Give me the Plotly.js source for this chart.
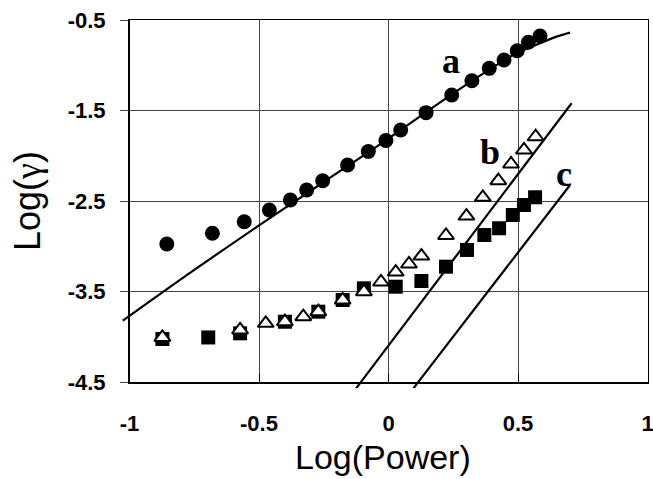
<!DOCTYPE html>
<html>
<head>
<meta charset="utf-8">
<script src="https://cdn.plot.ly/plotly-3.0.1.min.js"></script>
<style>html,body{margin:0;padding:0;background:#fff;}#chart{width:653px;height:479px;}</style>
</head>
<body>
<div id="chart"></div>
<script>
// ---- data ----
const seriesALogPower = [-0.856, -0.680, -0.557, -0.460, -0.379, -0.316, -0.254, -0.158, -0.078, -0.010, 0.047, 0.145, 0.244, 0.322, 0.389, 0.446, 0.497, 0.540, 0.585];
const seriesALogGamma = [-2.975, -2.857, -2.729, -2.599, -2.489, -2.378, -2.276, -2.102, -1.953, -1.831, -1.715, -1.524, -1.329, -1.171, -1.034, -0.942, -0.839, -0.746, -0.677];

const seriesBLogPower = [-0.873, -0.573, -0.474, -0.400, -0.329, -0.271, -0.177, -0.095, -0.029, 0.028, 0.079, 0.127, 0.222, 0.301, 0.364, 0.424, 0.473, 0.523, 0.568];
const seriesBLogGamma = [-4.008, -3.925, -3.851, -3.834, -3.778, -3.723, -3.594, -3.502, -3.395, -3.285, -3.196, -3.108, -2.881, -2.666, -2.459, -2.276, -2.091, -1.936, -1.790];

const seriesCLogPower = [-0.873, -0.696, -0.573, -0.400, -0.271, -0.177, -0.095, 0.028, 0.127, 0.222, 0.303, 0.370, 0.427, 0.480, 0.523, 0.566];
const seriesCLogGamma = [-4.025, -4.008, -3.962, -3.834, -3.723, -3.594, -3.465, -3.447, -3.384, -3.226, -3.041, -2.876, -2.801, -2.655, -2.544, -2.459];

const fitALogPower = [-1.026, -0.75, -0.5, -0.25, 0, 0.25, 0.45, 0.5, 0.585, 0.649, 0.701];
const fitALogGamma = [-3.823, -3.262, -2.77, -2.29, -1.81, -1.31, -0.94, -0.86, -0.758, -0.684, -0.640];
const fitBLogPower = [-0.125, 0.707];
const fitBLogGamma = [-4.570, -1.420];
const fitCLogPower = [0.096, 0.701];
const fitCLogGamma = [-4.570, -2.323];

const curveLabels = ['a', 'b', 'c'];
const xTickValues = [-1, -0.5, 0, 0.5, 1];
const xTickLabels = ['-1', '-0.5', '0', '0.5', '1'];
const yTickValues = [-4.5, -3.5, -2.5, -1.5, -0.5];
const yTickLabels = ['-4.5', '-3.5', '-2.5', '-1.5', '-0.5'];

// ---- geometry ----
const W = 653, H = 479;
const mL = 119, mR = 0, mT = 14, mB = 91;
const plotL = 129.5, plotR = 647.5, plotT = 20, plotB = 382;
const xRange = [-1, 1], yRange = [-4.5, -0.5];
const pw = W - mL - mR, ph = H - mT - mB;
const xDom = [(plotL - mL) / pw, (plotR - mL) / pw];
const yDom = [(H - mB - plotB) / ph, (H - mB - plotT) / ph];
const xPer = (xRange[1] - xRange[0]) / (xDom[1] - xDom[0]);
const yPer = (yRange[1] - yRange[0]) / (yDom[1] - yDom[0]);
// a wider, invisible subplot with the same scale, so fit lines may run a little past the frame
const x2Range = [xRange[0] - xDom[0] * xPer, xRange[1] + (1 - xDom[1]) * xPer];
const y2Range = [yRange[0] - yDom[0] * yPer, yRange[1] + (1 - yDom[1]) * yPer];

const lineStyle = {color: '#000', width: 2.2};
const onWide = {xaxis: 'x2', yaxis: 'y2'};
const traces = [
  {x: [], y: [], xaxis: 'x', yaxis: 'y', mode: 'markers', hoverinfo: 'skip', showlegend: false},
  Object.assign({x: fitALogPower, y: fitALogGamma, mode: 'lines', line: Object.assign({shape: 'spline'}, lineStyle), hoverinfo: 'skip', showlegend: false}, onWide),
  Object.assign({x: fitBLogPower, y: fitBLogGamma, mode: 'lines', line: lineStyle, hoverinfo: 'skip', showlegend: false}, onWide),
  Object.assign({x: fitCLogPower, y: fitCLogGamma, mode: 'lines', line: lineStyle, hoverinfo: 'skip', showlegend: false}, onWide),
  Object.assign({x: seriesALogPower, y: seriesALogGamma, mode: 'markers', cliponaxis: false, name: 'a',
   marker: {symbol: 'circle', size: 15, color: '#000'}}, onWide),
  Object.assign({x: seriesCLogPower, y: seriesCLogGamma, mode: 'markers', cliponaxis: false, name: 'c',
   marker: {symbol: 'square', size: 14, color: '#000'}}, onWide),
  Object.assign({x: seriesBLogPower, y: seriesBLogGamma, mode: 'markers', cliponaxis: false, name: 'b',
   marker: {symbol: 'triangle-up', size: 14, color: '#fff', line: {color: '#000', width: 2}}}, onWide)
];

const tickFont = {family: 'Liberation Sans, Arial, sans-serif', size: 22, color: '#000', weight: 'bold'};
const titleFont = {family: 'Liberation Sans, Arial, sans-serif', size: 34, color: '#000'};
const yTitleFont = {family: 'Liberation Sans, Arial, sans-serif', size: 36, color: '#000'};
const labelFont = {family: 'Liberation Serif, Times New Roman, serif', size: 36, color: '#000', weight: 'bold'};
const labelPos = [[0.241, -0.95], [0.393, -1.962], [0.676, -2.202]];

const layout = {
  width: W, height: H,
  margin: {l: mL, r: mR, t: mT, b: mB, pad: 0},
  paper_bgcolor: '#fff', plot_bgcolor: 'rgba(0,0,0,0)',
  showlegend: false,
  xaxis: {
    domain: xDom, range: xRange, tickvals: xTickValues, ticktext: xTickLabels,
    showgrid: true, gridcolor: '#444', gridwidth: 1, zeroline: false,
    showline: true, mirror: true, linecolor: '#000', linewidth: 1.5,
    ticks: 'inside', ticklen: 8, tickcolor: '#000', ticklabelstandoff: 21,
    ticklabeloverflow: 'allow',
    tickfont: tickFont,
    title: {text: ''}
  },
  yaxis: {
    domain: yDom, range: yRange, tickvals: yTickValues, ticktext: yTickLabels,
    showgrid: true, gridcolor: '#444', gridwidth: 1, zeroline: false,
    showline: true, mirror: true, linecolor: '#000', linewidth: 1.5,
    ticks: 'outside', ticklen: 8, tickcolor: '#444', ticklabelstandoff: 10,
    ticklabeloverflow: 'allow',
    tickfont: tickFont,
    title: {text: 'Log(<span style="font-family:Liberation Serif">γ</span>)', font: yTitleFont, standoff: 16}
  },
  xaxis2: {domain: [0, 1], range: x2Range, anchor: 'y2', visible: false, fixedrange: true},
  yaxis2: {domain: [0, 1], range: y2Range, anchor: 'x2', visible: false, fixedrange: true},
  annotations: curveLabels.map((t, i) => ({
    text: t, x: labelPos[i][0], y: labelPos[i][1], xref: 'x', yref: 'y',
    showarrow: false, font: labelFont, xanchor: 'center', yanchor: 'middle'
  })).concat([{
    text: 'Log(Power)', xref: 'paper', yref: 'paper',
    x: (383 - mL) / pw, y: (H - mB - 457) / ph,
    showarrow: false, font: titleFont, xanchor: 'center', yanchor: 'middle'
  }])
};

Plotly.newPlot('chart', traces, layout, {staticPlot: true, displayModeBar: false});
</script>
</body>
</html>
